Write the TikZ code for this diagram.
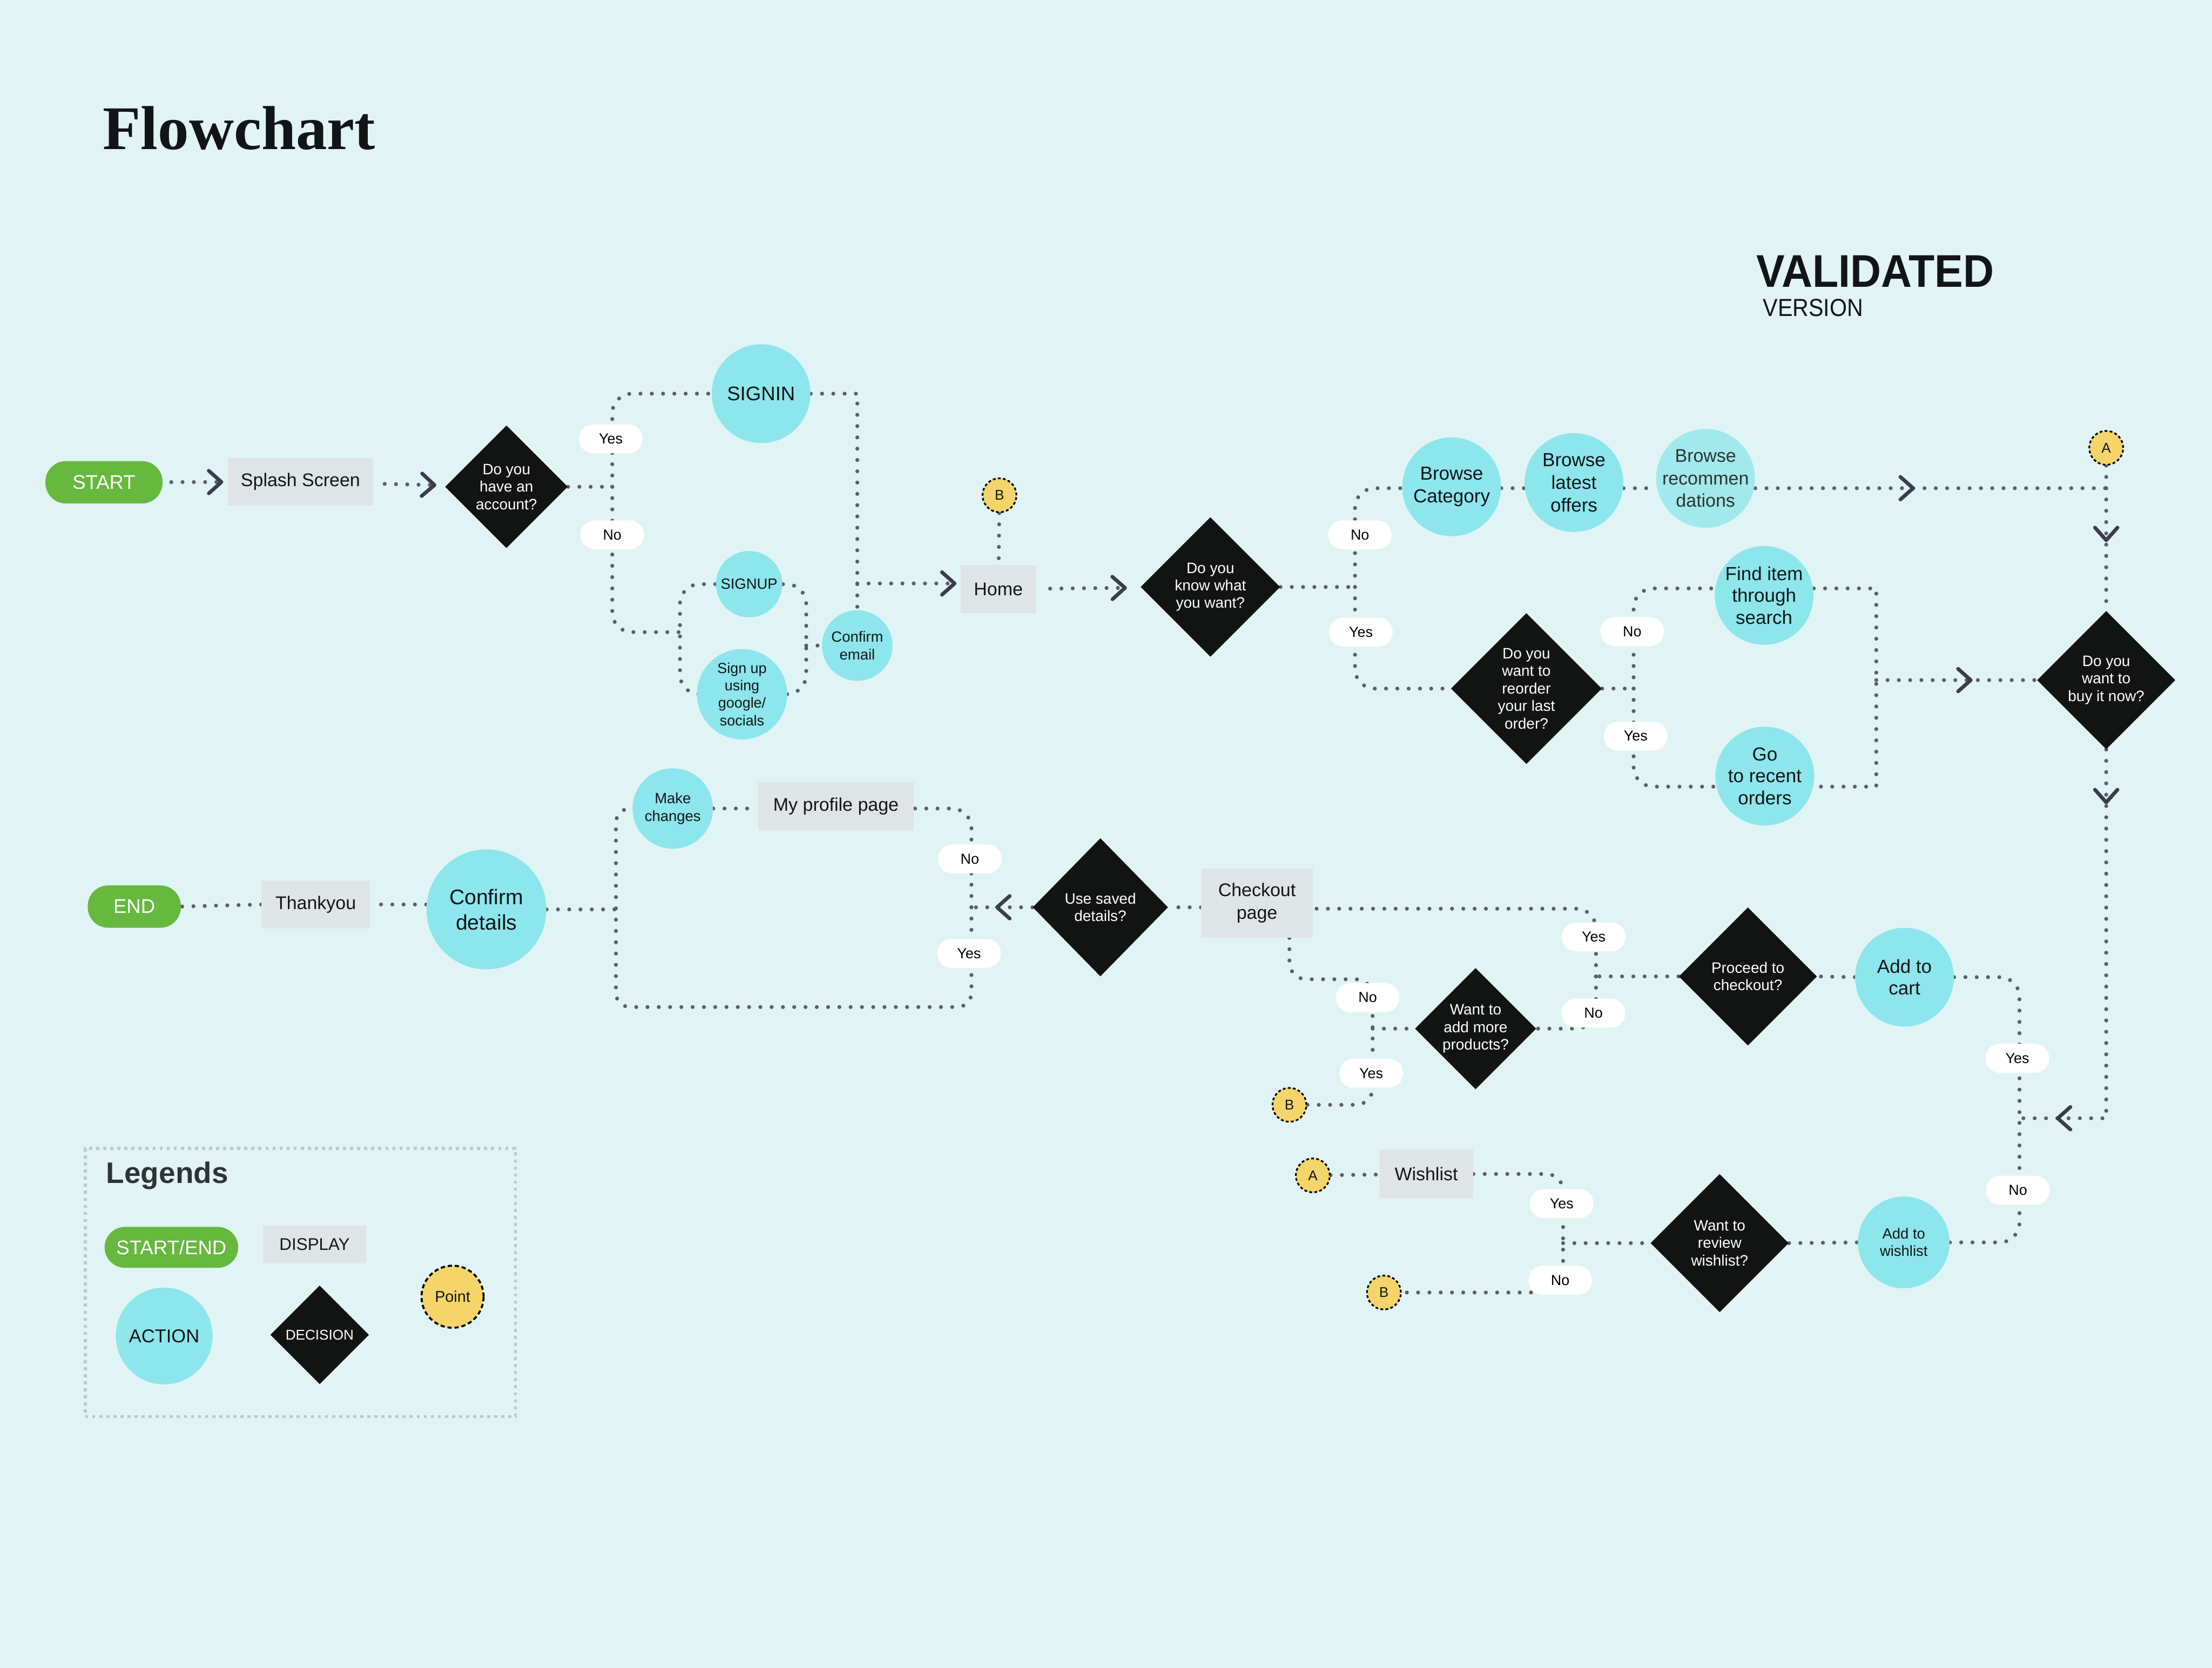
\documentclass[tikz,border=0pt]{standalone}
\usepackage{fontspec}
\usepackage{graphicx}
\setmainfont{Liberation Sans}
\newfontfamily\titlefont{Liberation Serif}
\usetikzlibrary{shapes.geometric,arrows.meta,decorations.markings}
\definecolor{bgc}{HTML}{E1F4F5}
\definecolor{actc}{HTML}{8DE6EC}
\definecolor{actlt}{HTML}{A2E9EE}
\definecolor{dispc}{HTML}{DFE5E6}
\definecolor{decc}{HTML}{121413}
\definecolor{greenc}{HTML}{66B83F}
\definecolor{yelc}{HTML}{F5D56A}
\definecolor{dotc}{HTML}{5A5E6B}
\definecolor{chevc}{HTML}{3B3D4B}
\definecolor{txtc}{HTML}{121517}
\definecolor{legc}{HTML}{BBC9CC}
\definecolor{legt}{HTML}{2E3335}
\definecolor{greytxt}{HTML}{2C3234}
\pgfdeclarelayer{back}
\pgfsetlayers{back,main}
\newcommand\fsz[2]{\fontsize{#1}{#2}\selectfont}
\begin{document}
\begin{tikzpicture}[x=1pt,y=-1pt,
  >={Straight Barb[length=9pt,width=16pt,line width=2.6pt,round,color=chevc]},
  conn/.style={draw=dotc,line width=2.8pt,dash pattern=on 0pt off 8pt,line cap=round},
  midchev/.style={postaction={decorate,decoration={markings,mark=at position #1 with {\arrow{>}}}}},
  twochev/.style 2 args={postaction={decorate,decoration={markings,mark=at position #1 with {\arrow{>}},mark=at position #2 with {\arrow{>}}}}},
  se/.style={rectangle,rounded corners=14.5pt,fill=greenc,text=white,font=\fsz{14}{16},inner sep=0pt},
  disp/.style={rectangle,fill=dispc,text=txtc,font=\fsz{13}{16},align=center,inner sep=0pt},
  act/.style={circle,fill=actc,inner sep=0pt},
  atx/.style={text=txtc,align=center,font=\fsz{13.4}{16}},
  stx/.style={text=txtc,align=center,font=\fsz{10.5}{12.4}},
  dia/.style={diamond,fill=decc,inner sep=0pt,text=white,align=center,font=\fsz{10.7}{12.4}},
  pnt/.style={circle,fill=yelc,draw=black,line width=1.2pt,dash pattern=on 2pt off 1.6pt,minimum size=24pt,inner sep=0pt,font=\fsz{10}{12},text=txtc},
  yn/.style={rectangle,rounded corners=10pt,fill=white,minimum width=45pt,minimum height=20.5pt,inner sep=0pt,font=\fsz{10.3}{12},text=black}
]
\useasboundingbox (0,0) rectangle (1568,1182);
\begin{pgfonlayer}{back}
\fill[bgc] (0,0) rectangle (1568,1182);
\end{pgfonlayer}

% titles
\node[anchor=base west,inner sep=0pt,font=\titlefont\bfseries\fsz{44}{50},text=txtc] (title) at (72.8,106) {Flowchart};
\node[anchor=base west,inner sep=0pt,text=txtc] (valid) at (1244.8,203.3) {\fsz{32.5}{36}\bfseries\scalebox{0.93}[1]{VALIDATED}};
\node[anchor=base west,inner sep=0pt,text=txtc] (version) at (1249.6,224) {\fsz{17.5}{20}\scalebox{0.9}[1]{VERSION}};

% nodes
\node[se,minimum width=83pt,minimum height=30pt] (start) at (73.7,341.8) {START};
\node[disp,minimum width=103pt,minimum height=33.6pt] (splash) at (213,341.5) {Splash Screen};
\node[dia,minimum size=87pt] (d1) at (359,345) {Do you\\have an\\account?};
\node[act,minimum size=70pt,label={[atx,font=\fsz{14}{16}]center:SIGNIN}] (signin) at (539.5,279) {};
\node[act,minimum size=47pt,label={[stx]center:SIGNUP}] (signup) at (531,414) {};
\node[act,minimum size=64pt,label={[stx,font=\fsz{10.3}{12.3}]center:{Sign up\\using\\google/\\socials}}] (gsign) at (526,492) {};
\node[act,minimum size=50pt,label={[stx,font=\fsz{10.5}{12.8}]center:{Confirm\\email}}] (cemail) at (607.7,457.5) {};
\node[disp,minimum width=53pt,minimum height=34pt] (home) at (707.7,417.5) {Home};
\node[pnt] (b1) at (708.5,351) {B};
\node[dia,minimum size=99pt] (d2) at (858,416) {Do you\\know what\\you want?};
\node[act,minimum size=70pt,label={[atx]center:{Browse\\Category}}] (bcat) at (1029,345) {};
\node[act,minimum size=70pt,label={[atx]center:{Browse\\latest\\offers}}] (blat) at (1115.7,342) {};
\node[act,fill=actlt,minimum size=70pt,label={[atx,text=greytxt,font=\fsz{13}{15.8}]center:{Browse\\recommen\\dations}}] (brec) at (1209,339) {};
\node[pnt] (apt) at (1493,317.4) {A};
\node[dia,minimum size=107pt] (d3) at (1082,488) {Do you\\want to\\reorder\\your last\\order?};
\node[act,minimum size=70pt,label={[atx,font=\fsz{13.4}{15.6}]center:{Find item\\through\\search}}] (find) at (1250.5,422) {};
\node[act,minimum size=70pt,label={[atx,font=\fsz{13.4}{15.6}]center:{Go\\to recent\\orders}}] (recent) at (1251,550) {};
\node[dia,minimum size=98pt] (d4) at (1493,482) {Do you\\want to\\buy it now?};
\node[act,minimum size=70pt,label={[atx,font=\fsz{13.4}{15.5}]center:{Add to\\cart}}] (cart) at (1350,692.5) {};
\node[dia,minimum size=98pt] (d5) at (1239,692) {Proceed to\\checkout?};
\node[disp,minimum width=79pt,minimum height=49pt] (checkout) at (891,640) {Checkout\\page};
\node[dia,minimum width=96pt,minimum height=98pt] (d7) at (780,643) {Use saved\\details?};
\node[disp,minimum width=110.6pt,minimum height=34pt] (profile) at (592.6,571.5) {My profile page};
\node[act,minimum size=57pt,label={[stx,font=\fsz{10.5}{12.8}]center:{Make\\changes}}] (make) at (476.9,573) {};
\node[act,minimum size=85pt,label={[atx,font=\fsz{15}{18}]center:{Confirm\\details}}] (cdet) at (344.8,644.5) {};
\node[disp,minimum width=77pt,minimum height=34pt] (thank) at (223.8,641) {Thankyou};
\node[se,minimum width=66pt,minimum height=30pt] (endn) at (95.2,642.5) {END};
\node[dia,minimum size=86pt] (d6) at (1046,729) {Want to\\add more\\products?};
\node[pnt] (b2) at (914,783) {B};
\node[pnt] (a2) at (930.6,833) {A};
\node[disp,minimum width=66.5pt,minimum height=34.4pt] (wish) at (1011,832) {Wishlist};
\node[pnt] (b3) at (981,916) {B};
\node[dia,minimum size=98pt] (d8) at (1219,881) {Want to\\review\\wishlist?};
\node[act,minimum size=65pt,label={[stx,font=\fsz{10.5}{12.3}]center:{Add to\\wishlist}}] (addwish) at (1349.5,880.5) {};

% connectors
\begin{pgfonlayer}{back}
\coordinate (j1) at (434,345);
\coordinate (jL) at (482,448);
\coordinate (jLb) at (482,492);
\coordinate (jRb) at (571.5,492);
\coordinate (jR) at (571.5,457.5);
\coordinate (jS) at (607.7,413.5);
\coordinate (j2) at (960.5,416);
\coordinate (jA) at (1493,346);
\coordinate (j3) at (1158,488);
\coordinate (j4) at (1330,482);
\coordinate (j5) at (1431.5,792.5);
\coordinate (j6) at (1131.3,692);
\coordinate (j7) at (688.6,643);
\coordinate (jB) at (436.6,713.7);
\coordinate (jN) at (973,694);
\coordinate (j8) at (973,729);
\coordinate (jW) at (1108,881);
\coordinate (jWb) at (1108,916);

\draw[conn,->,shorten <=6pt,shorten >=3pt] (start) -- (splash);
\draw[conn,->,shorten <=8pt,shorten >=7pt] (splash) -- (d1);
\draw[conn] (d1.east) -- (j1);
\draw[conn,rounded corners=14pt] (j1) |- (signin.west);
\draw[conn,rounded corners=14pt] (j1) |- (jL);
\draw[conn,rounded corners=14pt] (signup.center) -| (jLb) -- (gsign.center);
\draw[conn,rounded corners=14pt] (signup.center) -| (jRb) -- (gsign.center);
\draw[conn] (jR) -- (cemail.west);
\draw[conn] (signin.east) -| (cemail.north);
\draw[conn,->,shorten >=3pt] (jS) -- (jS -| home.west);
\draw[conn] (b1) -- (home);
\draw[conn,->,shorten <=10pt,shorten >=10pt] (home) -- (d2);
\draw[conn] (d2.east) -- (j2);
\draw[conn,rounded corners=14pt] (j2) |- (jA -| bcat.west);
\draw[conn] (jA -| bcat.east) -- (jA -| blat.west);
\draw[conn] (jA -| blat.east) -- (jA -| brec.west);
\draw[conn,midchev=0.455] (jA -| brec.east) -- (jA);
\draw[conn] (apt) -- (jA);
\draw[conn,midchev=0.44] (jA) -- (d4.north);
\draw[conn,rounded corners=14pt] (j2) |- (d3.west);
\draw[conn] (d3.east) -- (j3);
\draw[conn,rounded corners=14pt] (j3) |- ([yshift=5pt]find.west);
\draw[conn,rounded corners=14pt] (j3) |- ([yshift=-7.5pt]recent.west);
\draw[conn] ([yshift=5pt]find.east) -| (j4) |- ([yshift=-7.5pt]recent.east);
\draw[conn,midchev=0.6] (j4) -- (d4.west);
\draw[conn,twochev={0.12}{0.92}] (d4.south) |- (j5);
\draw[conn,rounded corners=14pt] (cart.east) -| (j5);
\draw[conn,rounded corners=14pt] (addwish.east) -| (j5);
\draw[conn] (cart.west) -- (d5.east);
\draw[conn] (d5.west) -- (j6);
\draw[conn,rounded corners=14pt] (j6) |- ([yshift=-4pt]checkout.east);
\draw[conn,rounded corners=14pt] (j6) |- (d6.east);
\draw[conn] ([yshift=-3pt]checkout.west) -- (d7.east);
\draw[conn,midchev=0.61] (d7.west) -- (j7);
\draw[conn,rounded corners=14pt] (j7) |- (make.east -| profile.east);
\draw[conn,rounded corners=10pt] (j7) |- (jB) |- (make.west);
\draw[conn] (make.east) -- (make.east -| profile.west);
\draw[conn] (cdet.east) -- (cdet.east -| jB);
\draw[conn] (thank.east -| cdet.west) -- (thank.east);
\draw[conn] (thank.west) -- (endn.east);
\draw[conn,rounded corners=12pt] ([xshift=23pt]checkout.south) |- (jN) |- (b2.east);
\draw[conn] (j8) -- (d6.west);
\draw[conn] (a2) -- (wish);
\draw[conn,rounded corners=12pt] (wish.east) -| (jWb) -- (b3.east);
\draw[conn] (jW) -- (d8.west);
\draw[conn] (d8.east) -- (addwish.west);
\end{pgfonlayer}

% yes/no labels
\node[yn] (y1) at (433,311) {Yes};
\node[yn] (n1) at (434,379) {No};
\node[yn] (n2) at (964,379) {No};
\node[yn] (y2) at (964.7,448) {Yes};
\node[yn] (n3) at (1157,447.6) {No};
\node[yn] (y3) at (1159.5,521.7) {Yes};
\node[yn] (n4) at (687.5,608.7) {No};
\node[yn] (y4) at (686.9,675.7) {Yes};
\node[yn] (y5) at (1129.7,664) {Yes};
\node[yn] (n5) at (1129.5,718) {No};
\node[yn] (n6) at (969.5,707) {No};
\node[yn] (y6) at (972,760.6) {Yes};
\node[yn] (y7) at (1430,750) {Yes};
\node[yn] (n7) at (1430.4,843.5) {No};
\node[yn] (y8) at (1107,853) {Yes};
\node[yn] (n8) at (1106,907.3) {No};

% legend
\node[draw=legc,line width=2.2pt,dash pattern=on 2.2pt off 2.8pt,minimum width=305pt,minimum height=190pt,inner sep=0pt] (legbox) at (212.85,908.9) {};
\node[anchor=base west,inner sep=0pt,font=\fsz{21}{24}\bfseries,text=legt] (legtitle) at (75.2,838.7) {Legends};
\node[se,minimum width=94.7pt,minimum height=29pt] (lgse) at (121.5,884) {START/END};
\node[disp,minimum width=73pt,minimum height=26.6pt,font=\fsz{12}{14}] (lgdisp) at (223,882) {DISPLAY};
\node[act,minimum size=68.6pt,label={[atx,font=\fsz{13.2}{15}]center:ACTION}] (lgact) at (116.4,946.8) {};
\node[dia,minimum size=70pt,font=\fsz{10}{12}] (lgdia) at (226.6,946) {DECISION};
\node[pnt,minimum size=44pt,font=\fsz{11}{13},line width=1.4pt,dash pattern=on 3pt off 2pt] (lgpt) at (320.8,919) {Point};
\end{tikzpicture}
\end{document}
